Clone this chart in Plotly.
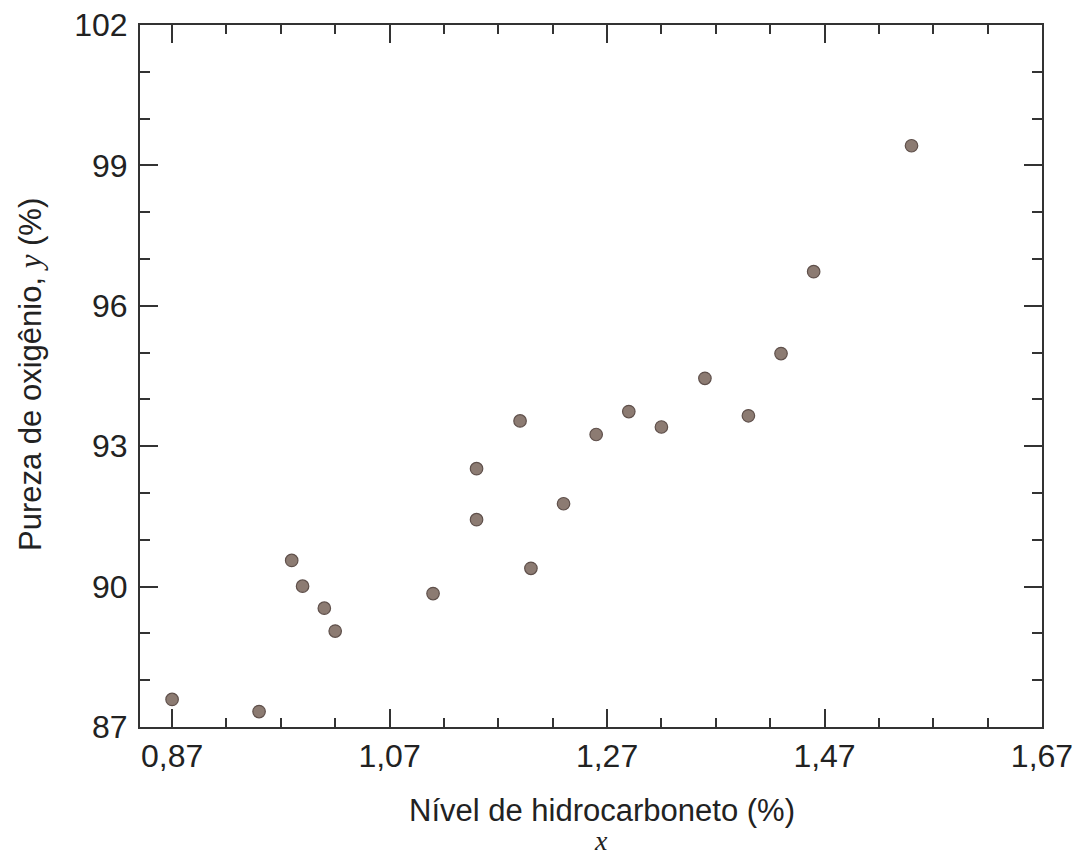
import plotly.graph_objects as go

# Hydrocarbon level (%) and oxygen purity (%)
hydrocarbon = [0.99, 1.02, 1.15, 1.29, 1.46, 1.36, 0.87, 1.23, 1.55, 1.40,
               1.19, 1.15, 0.98, 1.01, 1.11, 1.20, 1.26, 1.32, 1.43, 0.95]
purity = [90.01, 89.05, 91.43, 93.74, 96.73, 94.45, 87.59, 91.77, 99.42, 93.65,
          93.54, 92.52, 90.56, 89.54, 89.85, 90.39, 93.25, 93.41, 94.98, 87.33]

x_ticks = [0.87, 1.07, 1.27, 1.47, 1.67]
x_tick_labels = ["0,87", "1,07", "1,27", "1,47", "1,67"]
y_ticks = [87, 90, 93, 96, 99, 102]
y_tick_labels = ["87", "90", "93", "96", "99", "102"]

# page body has an 8px margin; work in page pixels, convert to figure pixels
OFF = 8
W, H = 1089 - OFF, 855 - OFF
L, R, T, B = 140 - OFF, 1042 - OFF, 25 - OFF, 727 - OFF

fig = go.Figure()
fig.add_trace(go.Scatter(
    x=hydrocarbon, y=purity, mode="markers",
    marker=dict(size=12.5, color="#8c7b72", line=dict(color="#5f504b", width=1.2)),
    showlegend=False,
))

axis_common = dict(
    showline=True, linecolor="#333333", linewidth=2,
    mirror="ticks", ticks="inside", tickcolor="#333333", tickwidth=2,
    ticklen=18, showgrid=False, zeroline=False, automargin=False,
    ticklabeloverflow="allow",
    tickfont=dict(family="Liberation Sans, Arial, sans-serif", size=32, color="#222222"),
)

fig.update_xaxes(
    range=[0.8405, 1.67], tickmode="array", tickvals=x_ticks, ticktext=x_tick_labels,
    minor=dict(dtick=0.05, tick0=0.87, ticks="inside", ticklen=9, tickcolor="#333333", tickwidth=2),
    ticklabelstandoff=0,
    **axis_common,
)
fig.update_yaxes(
    range=[87, 102], tickmode="array", tickvals=y_ticks, ticktext=y_tick_labels,
    minor=dict(dtick=1, tick0=87, ticks="inside", ticklen=10, tickcolor="#333333", tickwidth=2),
    ticklabelstandoff=4,
    **axis_common,
)

pw, ph = R - L, B - T
def px(xp): return (xp - OFF - L) / pw
def py(yp): return (B - (yp - OFF)) / ph

fig.add_annotation(
    text="Nível de hidrocarboneto (%)", xref="paper", yref="paper",
    x=px(602), y=py(810), xanchor="center", yanchor="middle", showarrow=False,
    font=dict(family="Liberation Sans, Arial, sans-serif", size=31, color="#222222"),
)
fig.add_annotation(
    text="<i>x</i>", xref="paper", yref="paper",
    x=px(601), y=py(840), xanchor="center", yanchor="middle", showarrow=False,
    font=dict(family="Liberation Serif, Times New Roman, serif", size=28, color="#222222"),
)
fig.add_annotation(
    text='Pureza de oxigênio, <span style="font-family:Liberation Serif"><i>y</i></span> (%)',
    xref="paper", yref="paper", textangle=-90,
    x=px(30), y=py(375), xanchor="center", yanchor="middle", showarrow=False,
    font=dict(family="Liberation Sans, Arial, sans-serif", size=31, color="#222222"),
)

fig.update_layout(
    width=W, height=H, autosize=False,
    margin=dict(l=L, r=W - R, t=T, b=H - B, pad=0),
    plot_bgcolor="white", paper_bgcolor="white",
)

fig.write_html("out.html")
